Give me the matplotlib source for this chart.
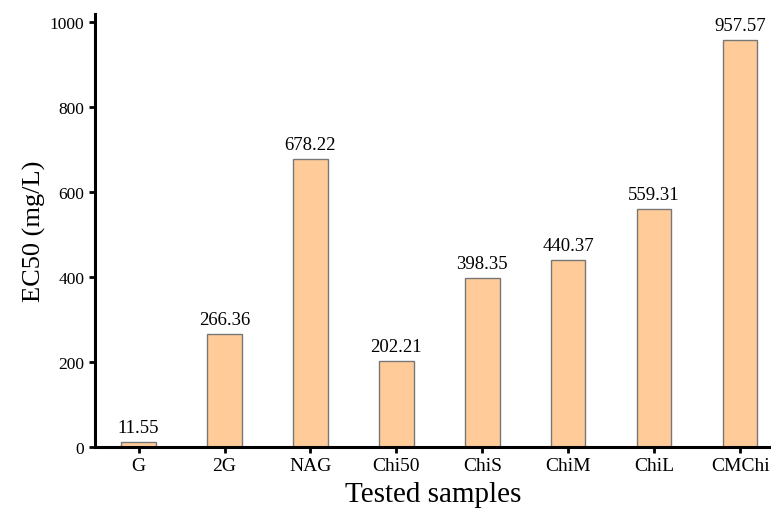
import matplotlib.pyplot as plt

samples = ['G', '2G', 'NAG', 'Chi50', 'ChiS', 'ChiM', 'ChiL', 'CMChi']
ec50 = [11.55, 266.36, 678.22, 202.21, 398.35, 440.37, 559.31, 957.57]
labels = ['11.55', '266.36', '678.22', '202.21', '398.35', '440.37', '559.31', '957.57']

plt.rcParams['font.family'] = ['Liberation Serif', 'DejaVu Serif']

fig = plt.figure(figsize=(7.71, 5.10), dpi=100)
ax = fig.add_axes([0.123, 0.122, 0.877, 0.849])

x = range(len(samples))
bars = ax.bar(x, ec50, width=0.4, color='#FFCC99', edgecolor='#777777', linewidth=1)
for b, t in zip(bars, labels):
    ax.text(b.get_x() + b.get_width() / 2, b.get_height() + 14, t,
            ha='center', va='bottom', fontsize=13.5)

ax.set_xlim(-0.51, 7.36)
ax.set_ylim(0, 1020)
ax.set_yticks([0, 200, 400, 600, 800, 1000])
ax.set_xticks(list(x))
ax.set_xticklabels(samples)
ax.tick_params(width=2, length=4, direction='out')
ax.tick_params(axis='y', labelsize=12.5)
ax.tick_params(axis='x', labelsize=14)

for s in ['top', 'right']:
    ax.spines[s].set_visible(False)
for s in ['left', 'bottom']:
    ax.spines[s].set_linewidth(2.2)

ax.set_ylabel('EC50 (mg/L)', fontsize=19, labelpad=3)
ax.set_xlabel('Tested samples', fontsize=21, labelpad=5)

plt.savefig('out.png')
